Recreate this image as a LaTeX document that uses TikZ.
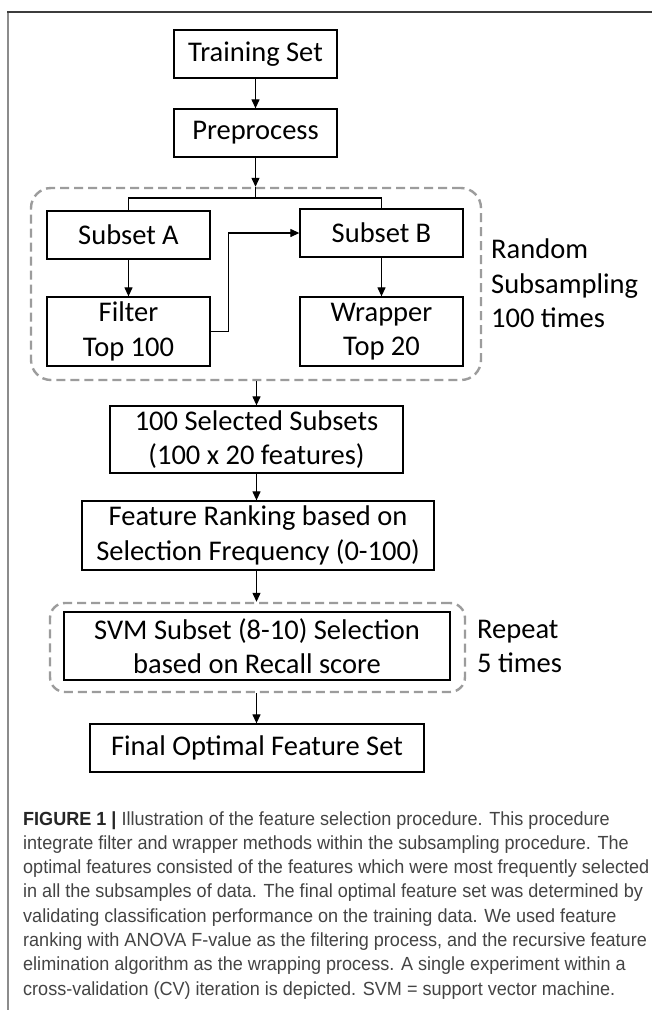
\documentclass[tikz,border=0pt]{standalone}
\usepackage{fontspec}
\setmainfont{Carlito}
\newfontfamily\capfont[FakeStretch=0.95]{Liberation Sans}
\usetikzlibrary{arrows.meta,calc}
\definecolor{dashgray}{HTML}{9C9C9C}
\definecolor{capgray}{HTML}{444444}
\definecolor{framegray}{HTML}{8C8C8C}
\definecolor{topline}{HTML}{3C3C3C}

\begin{document}
\begin{tikzpicture}[x=1pt,y=-1pt,
  box/.style={draw=black,line width=1.3pt,inner sep=0pt,align=center,
    font=\fontsize{28.5}{34.5}\selectfont},
  group/.style={draw=dashgray,line width=2.4pt,dash pattern=on 9pt off 5pt,inner sep=0pt},
  flow/.style={line width=1.2pt,-{Triangle[length=9pt,width=8pt]}},
  link/.style={line width=1.2pt},
  side/.style={font=\fontsize{28.5}{34.5}\selectfont,anchor=base west,inner sep=0pt},
  capline/.style={font=\capfont\fontsize{19}{24}\selectfont,text=capgray,anchor=base west,inner sep=0pt}]

\useasboundingbox (0,0) rectangle (652,1010);
\fill[white] (0,0) rectangle (652,1010);

% figure frame
\draw[framegray,line width=1.5pt] (8,1010) -- (8,12);
\draw[topline,line width=1.5pt] (7.25,12) -- (652,12);

% dashed groups
\node[group,rounded corners=20pt,minimum width=450pt,minimum height=192pt] (rs) at (256,284) {};
\node[group,rounded corners=15pt,minimum width=415pt,minimum height=89pt] (rep) at (257.5,647.5) {};

% process boxes
\node[box,minimum width=163pt,minimum height=48pt] (train) at (255.5,54) {Training Set};
\node[box,minimum width=163pt,minimum height=48pt] (prep) at (255.5,133) {Preprocess};
\node[box,minimum width=163pt,minimum height=48pt] (subA) at (128.5,235) {Subset A};
\node[box,minimum width=163pt,minimum height=48pt] (subB) at (381.5,233) {Subset B};
\node[box,minimum width=163pt,minimum height=69pt] (filt) at (128.5,331.5) {Filter\\Top 100};
\node[box,minimum width=163pt,minimum height=69pt] (wrap) at (381.5,331.5) {Wrapper\\Top 20};
\node[box,minimum width=293pt,minimum height=67pt] (sel) at (256.5,439.5) {100 Selected Subsets\\(100 x 20 features)};
\node[box,minimum width=352pt,minimum height=69pt] (rank) at (258,535.5) {Feature Ranking based on\\Selection Frequency (0-100)};
\node[box,minimum width=386pt,minimum height=68pt] (svm) at (257,646) {SVM Subset (8-10) Selection\\based on Recall score};
\node[box,minimum width=334pt,minimum height=48pt] (final) at (257,748) {Final Optimal Feature Set};

% side notes
\node[side] (rs1) at (491,258) {Random};
\node[side] (rs2) at (491,293) {Subsampling};
\node[side] (rs3) at (491,327) {100 times};
\node[side] (rp1) at (477,638) {Repeat};
\node[side] (rp2) at (477,672) {5 times};

% connectors
\coordinate (split) at (255.5,198);
\draw[flow] (train) -- (prep);
\draw[flow] (prep.south) -- (prep.south |- rs.north);
\draw[link] (prep.south |- rs.north) -- (split);
\draw[link] (subA.north) |- (split) -| (subB.north);
\draw[flow] (subA) -- (filt);
\draw[flow] (subB) -- (wrap);
\draw[flow] (filt.east) -- ++(18,0) |- (subB.west);
\draw[flow] (sel.north |- rs.south) -- (sel.north);
\draw[flow] (sel.south) -- (sel.south |- rank.north);
\draw[flow] (rank.south -| sel.south) -- (sel.south |- rep.north);
\draw[flow] (sel.south |- rep.south) -- (sel.south |- final.north);

% caption
\node[capline] (c1) at (23,825) {{\bfseries\color{black!85}FIGURE 1 |} Illustration of the feature selection procedure. This procedure};
\node[capline] (c2) at (23,849.3) {integrate filter and wrapper methods within the subsampling procedure. The};
\node[capline] (c3) at (23,873.6) {optimal features consisted of the features which were most frequently selected};
\node[capline] (c4) at (23,897.9) {in all the subsamples of data. The final optimal feature set was determined by};
\node[capline] (c5) at (23,922.2) {validating classification performance on the training data. We used feature};
\node[capline] (c6) at (23,946.5) {ranking with ANOVA F-value as the filtering process, and the recursive feature};
\node[capline] (c7) at (23,970.8) {elimination algorithm as the wrapping process. A single experiment within a};
\node[capline] (c8) at (23,995.1) {cross-validation (CV) iteration is depicted. SVM = support vector machine.};
\end{tikzpicture}
\end{document}
